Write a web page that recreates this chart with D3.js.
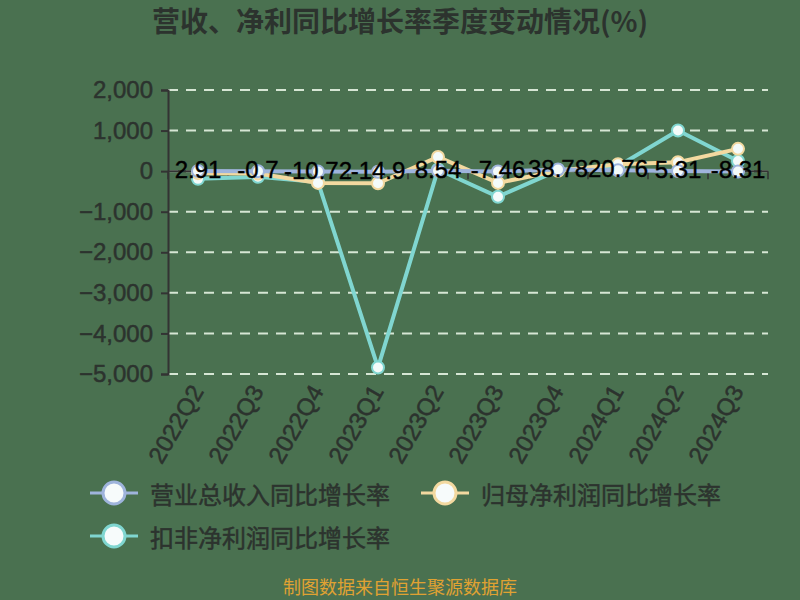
<!DOCTYPE html>
<html>
<head>
<meta charset="utf-8">
<script src="https://cdn.jsdelivr.net/npm/d3@7"></script>
<style>
  body { margin: 0; background: #4a7150; }
  svg { display: block; font-family: "Noto Sans CJK SC", "Noto Sans", sans-serif; }
</style>
</head>
<body>
<svg id="chart" width="800" height="600"></svg>
<script>
// quarters and growth rates (%)
var quarters = ['2022Q2', '2022Q3', '2022Q4', '2023Q1', '2023Q2', '2023Q3', '2023Q4', '2024Q1', '2024Q2', '2024Q3'];
var revenue = [2.91, -0.7, -10.72, -14.9, 8.54, -7.46, 38.78, 20.76, 5.31, -8.31];
var netProfit = [-50, -60, -290, -300, 350, -290, 10, 170, 220, 550];
var deductedProfit = [-190, -140, -270, -4840, 40, -630, 20, 120, 1000, 250];
var yTicks = [2000, 1000, 0, -1000, -2000, -3000, -4000, -5000];

var seriesNames = ['营业总收入同比增长率', '归母净利润同比增长率', '扣非净利润同比增长率'];
var colors = ['#9fb4dc', '#f3d9a0', '#80d6d0'];

var svg = d3.select('#chart');
var W = 800, H = 600;
var plotLeft = 168, plotRight = 768, plotTop = 90, plotBottom = 374;
var numFont = '"Liberation Sans", Arial, sans-serif';
var textColor = '#2c332e';

svg.append('rect').attr('width', W).attr('height', H).attr('fill', '#4a7150');

// title
svg.append('text')
  .attr('x', 400).attr('y', 32)
  .attr('text-anchor', 'middle')
  .attr('font-size', 28).attr('font-weight', 'bold')
  .attr('fill', textColor)
  .text('营收、净利同比增长率季度变动情况(%)');

var x = d3.scaleBand().domain(quarters).range([plotLeft, plotRight]);
var y = d3.scaleLinear().domain([-5000, 2000]).range([plotBottom, plotTop]);

// grid lines
svg.append('g').selectAll('line')
  .data(yTicks)
  .join('line')
  .attr('x1', plotLeft).attr('x2', plotRight)
  .attr('y1', d => y(d)).attr('y2', d => y(d))
  .attr('stroke', '#d6e6d4').attr('stroke-width', 2)
  .attr('stroke-dasharray', '10,8');

// y axis
var yAxis = svg.append('g')
  .attr('transform', 'translate(' + plotLeft + ',0)')
  .call(d3.axisLeft(y).tickValues(yTicks).tickSize(7).tickPadding(8).tickFormat(d3.format(',')));
yAxis.select('.domain').attr('stroke', '#333').attr('stroke-width', 2);
yAxis.selectAll('.tick line').attr('stroke', '#333').attr('stroke-width', 2);
yAxis.selectAll('.tick text')
  .attr('font-size', 24).attr('fill', textColor)
  .attr('stroke', textColor).attr('stroke-width', 0.5)
  .attr('font-family', numFont);

// x axis on zero with boundary ticks
var xAxis = svg.append('g').attr('transform', 'translate(0,' + y(0) + ')');
xAxis.append('line')
  .attr('x1', plotLeft).attr('x2', plotRight)
  .attr('stroke', '#333').attr('stroke-width', 2);
xAxis.selectAll('.btick')
  .data(quarters.concat(['end']))
  .join('line')
  .attr('class', 'btick')
  .attr('x1', (d, i) => plotLeft + i * x.bandwidth())
  .attr('x2', (d, i) => plotLeft + i * x.bandwidth())
  .attr('y1', 0).attr('y2', 8)
  .attr('stroke', '#333').attr('stroke-width', 1.5);

// x labels at the bottom, rotated
svg.append('g').selectAll('text')
  .data(quarters)
  .join('text')
  .attr('transform', d => 'translate(' + (x(d) + x.bandwidth() / 2 + 1) + ',' + (plotBottom + 14) + ') rotate(-60)')
  .attr('text-anchor', 'end')
  .attr('dominant-baseline', 'middle')
  .attr('font-size', 24).attr('fill', textColor)
  .attr('stroke', textColor).attr('stroke-width', 0.5)
  .attr('font-family', numFont)
  .text(d => d);

var allSeries = [revenue, netProfit, deductedProfit];
var line = d3.line()
  .x((d, i) => x(quarters[i]) + x.bandwidth() / 2)
  .y(d => y(d));

// lines drawn so that the revenue line sits on top
[2, 1, 0].forEach(function(k) {
  var g = svg.append('g');
  g.append('path')
    .datum(allSeries[k])
    .attr('d', line)
    .attr('fill', 'none')
    .attr('stroke', colors[k]).attr('stroke-width', 4);
  g.selectAll('circle')
    .data(allSeries[k])
    .join('circle')
    .attr('cx', (d, i) => x(quarters[i]) + x.bandwidth() / 2)
    .attr('cy', d => y(d))
    .attr('r', 6)
    .attr('fill', '#f4fbfa')
    .attr('stroke', colors[k]).attr('stroke-width', 2);
});

// data labels for revenue
svg.append('g').selectAll('text')
  .data(revenue)
  .join('text')
  .attr('x', (d, i) => x(quarters[i]) + x.bandwidth() / 2)
  .attr('y', d => y(d) + 7)
  .attr('text-anchor', 'middle')
  .attr('font-size', 24).attr('fill', '#000')
  .attr('stroke', '#000').attr('stroke-width', 0.4)
  .attr('font-family', numFont)
  .text(d => d);

// legend
var legendPos = [[114, 493], [445, 493], [114, 536]];
var legend = svg.append('g');
seriesNames.forEach(function(name, k) {
  var p = legendPos[k];
  legend.append('line')
    .attr('x1', p[0] - 24).attr('x2', p[0] + 24)
    .attr('y1', p[1]).attr('y2', p[1])
    .attr('stroke', colors[k]).attr('stroke-width', 3);
  legend.append('circle')
    .attr('cx', p[0]).attr('cy', p[1]).attr('r', 11)
    .attr('fill', '#f7fbfb')
    .attr('stroke', colors[k]).attr('stroke-width', 3);
  legend.append('text')
    .attr('x', p[0] + 36).attr('y', p[1])
    .attr('dominant-baseline', 'central')
    .attr('font-size', 24).attr('fill', textColor)
    .attr('stroke', textColor).attr('stroke-width', 0.5)
    .text(name);
});

// source note
svg.append('text')
  .attr('x', 400).attr('y', 594)
  .attr('text-anchor', 'middle')
  .attr('font-size', 18).attr('fill', '#e0a232')
  .text('制图数据来自恒生聚源数据库');
</script>
</body>
</html>
